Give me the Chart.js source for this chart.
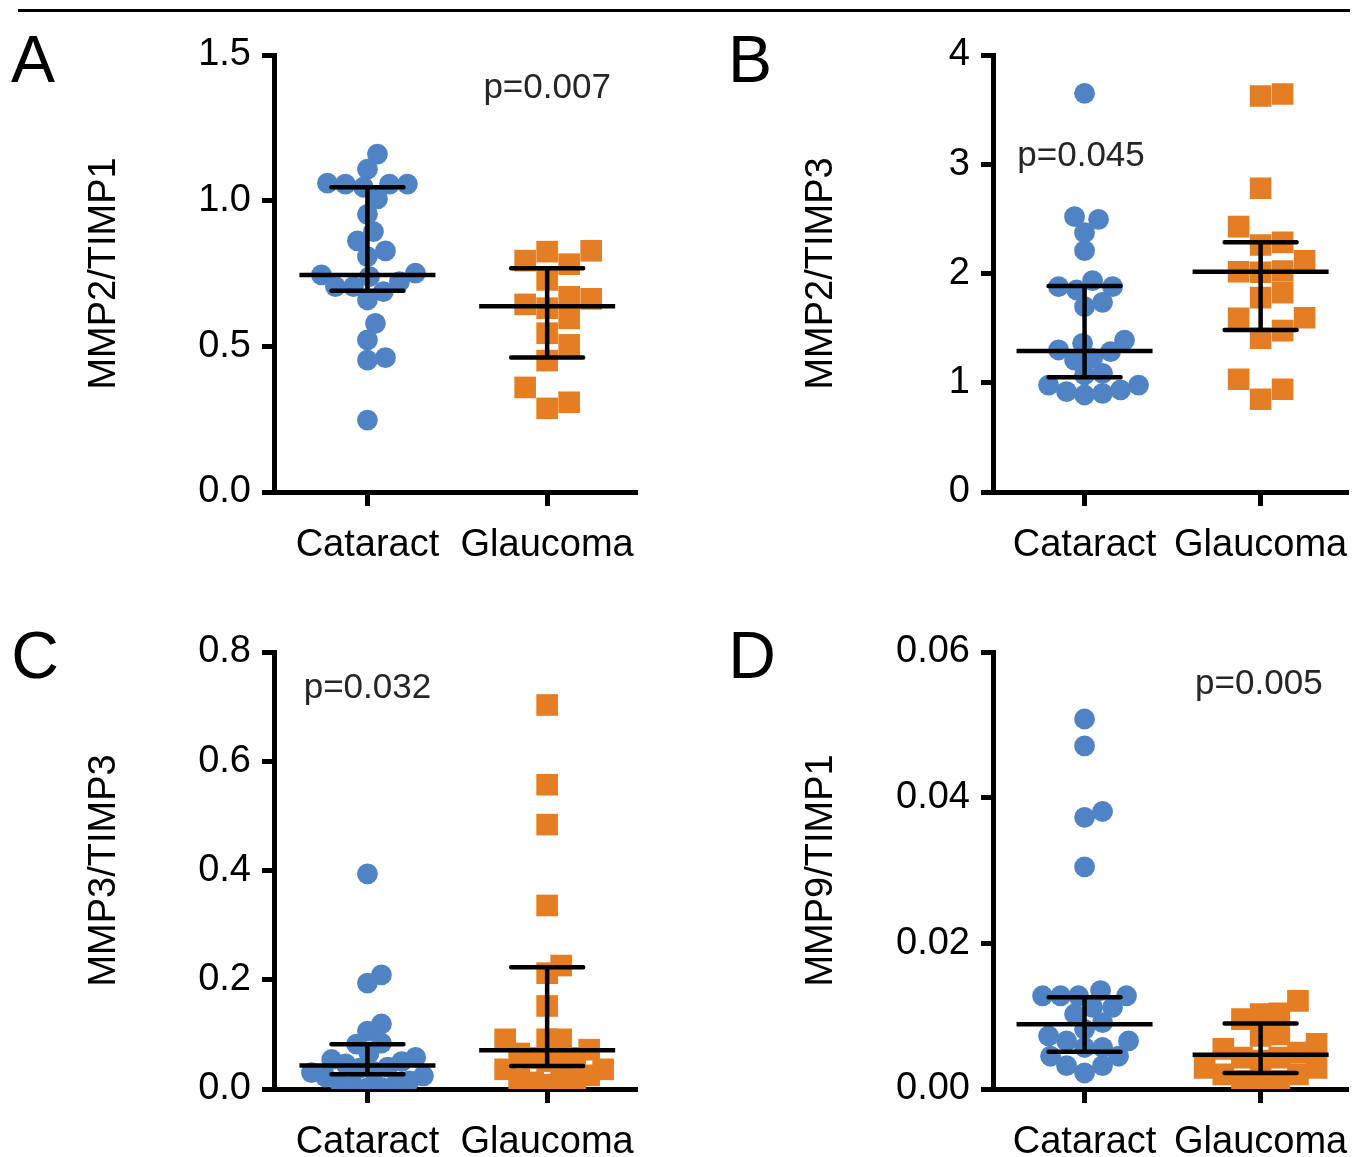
<!DOCTYPE html>
<html>
<head>
<meta charset="utf-8">
<script src="https://cdn.jsdelivr.net/npm/chart.js@4.4.1/dist/chart.umd.min.js"></script>
<style>
html,body{margin:0;padding:0;background:#fff;overflow:hidden}
body{width:1368px;height:1157px;position:relative}
.rule{position:absolute;left:18px;top:9px;width:1332px;height:3px;background:#000}
.panel{position:absolute;width:684px;height:580px}
</style>
</head>
<body>
<div class="rule"></div>
<div class="panel" style="left:0;top:0"><canvas id="cA" width="684" height="580"></canvas></div>
<div class="panel" style="left:684px;top:0"><canvas id="cB" width="684" height="580"></canvas></div>
<div class="panel" style="left:0;top:597px"><canvas id="cC" width="684" height="580"></canvas></div>
<div class="panel" style="left:684px;top:597px"><canvas id="cD" width="684" height="580"></canvas></div>
<script>
// ---- data ----
const groups = ["Cataract", "Glaucoma"];

const cataractA = [1.160, 1.108, 1.060, 1.057, 1.057, 1.057, 1.046, 1.006, 0.953, 0.894, 0.862, 0.828, 0.808,
  0.751, 0.745, 0.739, 0.722, 0.705, 0.705, 0.688, 0.659, 0.579, 0.522, 0.461, 0.453, 0.247];
const glaucomaA = [0.828, 0.825, 0.794, 0.782, 0.728, 0.670, 0.663, 0.644, 0.631, 0.596, 0.545, 0.505, 0.451,
  0.359, 0.308, 0.287];
const medianA = [0.745, 0.638];
const q1A = [0.691, 0.462];
const q3A = [1.046, 0.768];
const ticksA = [0, 0.5, 1.0, 1.5];
const tickLabelsA = ["0.0", "0.5", "1.0", "1.5"];

const cataractB = [3.649, 2.520, 2.496, 2.374, 2.209, 1.934, 1.879, 1.879, 1.849, 1.736, 1.696, 1.391, 1.361,
  1.300, 1.284, 1.224, 1.208, 1.086, 1.071, 0.979, 0.979, 0.934, 0.918, 0.903, 0.888];
const glaucomaB = [3.643, 3.625, 2.780, 2.429, 2.285, 2.261, 2.117, 2.023, 2.016, 2.011, 1.824, 1.779, 1.595,
  1.590, 1.477, 1.407, 1.032, 0.940, 0.849];
const medianB = [1.291, 2.017];
const q1B = [1.050, 1.483];
const q3B = [1.886, 2.285];
const ticksB = [0, 1, 2, 3, 4];
const tickLabelsB = ["0", "1", "2", "3", "4"];

const cataractC = [0.394, 0.209, 0.194, 0.119, 0.106, 0.084, 0.082, 0.065, 0.058, 0.054, 0.050, 0.046, 0.040,
  0.038, 0.032, 0.030, 0.024, 0.022, 0.015, 0.012, 0.008, 0.006, 0.003, 0.002];
const glaucomaC = [0.703, 0.557, 0.484, 0.336, 0.226, 0.212, 0.152, 0.091, 0.091, 0.091, 0.072, 0.065, 0.057,
  0.057, 0.051, 0.051, 0.036, 0.036, 0.025, 0.018, 0.018, 0.012, 0.012, 0.008];
const medianC = [0.043, 0.071];
const q1C = [0.027, 0.042];
const q3C = [0.082, 0.223];
const ticksC = [0, 0.2, 0.4, 0.6, 0.8];
const tickLabelsC = ["0.0", "0.2", "0.4", "0.6", "0.8"];

const cataractD = [0.0508, 0.0471, 0.0381, 0.0373, 0.0305, 0.0135, 0.0128, 0.0128, 0.0128, 0.0128, 0.0112,
  0.0112, 0.0103, 0.0091, 0.0082, 0.0073, 0.0066, 0.0066, 0.0057, 0.0057, 0.0045, 0.0045, 0.0032, 0.0032, 0.0022];
const glaucomaD = [0.0121, 0.0104, 0.0103, 0.0096, 0.0075, 0.0073, 0.0062, 0.0055, 0.0050, 0.0043, 0.0043,
  0.0039, 0.0029, 0.0029, 0.0020, 0.0020, 0.0011, 0.0011, 0.0008];
const medianD = [0.0089, 0.0047];
const q1D = [0.0051, 0.0022];
const q3D = [0.0126, 0.0090];
const ticksD = [0, 0.02, 0.04, 0.06];
const tickLabelsD = ["0.00", "0.02", "0.04", "0.06"];

// ---- styling ----
const FONT = "'Liberation Sans', Arial, sans-serif";
const BLUE = "#4f83c4";
const ORANGE = "#e57e22";
const MAX_SPREAD = 56; // px either side of the group centre

/* median + interquartile bars, drawn on top of the points */
const iqrPlugin = {
  id: "iqr",
  afterDatasetsDraw(chart, args, o) {
    const {ctx, scales: {x, y}} = chart;
    ctx.save();
    ctx.strokeStyle = "#000";
    ctx.lineWidth = 4.5;
    o.median.forEach((m, i) => {
      const cx = x.getPixelForValue(i);
      const pm = y.getPixelForValue(m);
      const p1 = y.getPixelForValue(o.q1[i]);
      const p3 = y.getPixelForValue(o.q3[i]);
      ctx.beginPath();
      ctx.moveTo(cx - 68, pm); ctx.lineTo(cx + 68, pm);
      ctx.moveTo(cx, p1); ctx.lineTo(cx, p3);
      ctx.stroke();
      ctx.lineCap = "round";
      ctx.beginPath();
      ctx.moveTo(cx - 36, p1); ctx.lineTo(cx + 36, p1);
      ctx.moveTo(cx - 36, p3); ctx.lineTo(cx + 36, p3);
      ctx.stroke();
      ctx.lineCap = "butt";
    });
    ctx.restore();
  }
};

/* panel letter and p value */
const notePlugin = {
  id: "note",
  afterDraw(chart, args, o) {
    const {ctx, scales: {x, y}} = chart;
    ctx.save();
    ctx.textAlign = "center";
    ctx.textBaseline = "middle";
    ctx.fillStyle = "#000";
    ctx.font = "66px " + FONT;
    ctx.fillText(o.letter, o.letterX, o.letterY);
    ctx.fillStyle = "#262626";
    ctx.font = "35px " + FONT;
    ctx.fillText(o.p, x.getPixelForValue(o.pAt[0]), y.getPixelForValue(o.pAt[1]));
    ctx.restore();
  }
};

/* simple beeswarm: place points from low to high, nearest free offset,
   then squeeze the group if it got wider than MAX_SPREAD */
function swarm(chart) {
  const xs = chart.scales.x, ys = chart.scales.y;
  const unit = xs.getPixelForValue(1) - xs.getPixelForValue(0);
  chart.data.datasets.forEach((ds, gi) => {
    const vals = ds.values;
    const rect = ds.pointStyle === "rect";
    const order = vals.map((v, i) => i).sort((a, b) => vals[a] - vals[b]);
    const placed = [];
    const off = new Array(vals.length).fill(0);
    order.forEach(i => {
      const py = ys.getPixelForValue(vals[i]);
      for (let k = 0; k < 500; k++) {
        const c = k === 0 ? 0 : (k % 2 ? 1 : -1) * Math.ceil(k / 2) * 2;
        const hit = placed.some(p => {
          const dx = p.x - c, dy = p.y - py;
          return rect ? (Math.abs(dx) < 21 && Math.abs(dy) < 21) : (dx * dx + dy * dy < 18 * 18);
        });
        if (!hit) { off[i] = c; placed.push({x: c, y: py}); break; }
      }
    });
    const widest = Math.max(...off.map(Math.abs));
    const k = widest > MAX_SPREAD ? MAX_SPREAD / widest : 1;
    ds.data = vals.map((v, i) => ({x: gi + off[i] * k / unit, y: v}));
  });
  chart.update("none");
}

function makePanel(id, p) {
  const ds = (vals, gi, color, style, r) => ({
    values: vals,
    data: vals.map(v => ({x: gi, y: v})),
    backgroundColor: color,
    borderWidth: 0,
    pointStyle: style,
    pointRadius: r,
    pointBorderWidth: 0,
    clip: {left: 40, right: 40, top: 40, bottom: 0}
  });
  const chart = new Chart(document.getElementById(id), {
    type: "scatter",
    data: {
      datasets: [
        ds(p.cataract, 0, BLUE, "circle", 10.4),
        ds(p.glaucoma, 1, ORANGE, "rect", 15.3)
      ]
    },
    options: {
      responsive: false,
      animation: false,
      events: [],
      layout: {padding: {left: 0, top: 55, right: p.padRight, bottom: 0}},
      plugins: {
        legend: {display: false},
        tooltip: {enabled: false},
        iqr: {median: p.median, q1: p.q1, q3: p.q3},
        note: {letter: p.letter, letterX: p.letterX, letterY: p.letterY, p: p.pText, pAt: p.pAt}
      },
      scales: {
        x: {
          type: "linear", min: -0.52, max: 1.5, z: 1,
          afterBuildTicks: s => { s.ticks = groups.map((g, i) => ({value: i})); },
          afterFit: s => { s.height = 88; },
          ticks: {
            callback: (v, i) => groups[i],
            color: "#000", font: {size: 38, family: FONT}, padding: 17, maxRotation: 0, autoSkip: false
          },
          grid: {drawOnChartArea: false, tickLength: 14, tickWidth: 5, tickColor: "#000"},
          border: {color: "#000", width: 5}
        },
        y: {
          type: "linear", min: p.ticks[0], max: p.ticks[p.ticks.length - 1], z: 1,
          afterBuildTicks: s => { s.ticks = p.ticks.map(v => ({value: v})); },
          afterFit: s => { s.width = p.axisW; },
          ticks: {
            callback: (v, i) => p.tickLabels[i],
            color: "#000", font: {size: 38, family: FONT}, padding: 11
          },
          grid: {drawOnChartArea: false, tickLength: 12, tickWidth: 5, tickColor: "#000"},
          border: {color: "#000", width: 5},
          title: {
            display: true, text: p.yTitle, color: "#000",
            font: {size: 38, family: FONT}, padding: {top: p.titlePad, bottom: 0}
          }
        }
      }
    },
    plugins: [iqrPlugin, notePlugin]
  });
  swarm(chart);
}

makePanel("cA", {
  cataract: cataractA, glaucoma: glaucomaA, median: medianA, q1: q1A, q3: q3A,
  ticks: ticksA, tickLabels: tickLabelsA, yTitle: "MMP2/TIMP1",
  letter: "A", letterX: 33, letterY: 64, pText: "p=0.007", pAt: [1, 1.387],
  axisW: 274, padRight: 47, titlePad: 82
});
makePanel("cB", {
  cataract: cataractB, glaucoma: glaucomaB, median: medianB, q1: q1B, q3: q3B,
  ticks: ticksB, tickLabels: tickLabelsB, yTitle: "MMP2/TIMP3",
  letter: "B", letterX: 66, letterY: 64, pText: "p=0.045", pAt: [-0.02, 3.07],
  axisW: 309, padRight: 15, titlePad: 115
});
makePanel("cC", {
  cataract: cataractC, glaucoma: glaucomaC, median: medianC, q1: q1C, q3: q3C,
  ticks: ticksC, tickLabels: tickLabelsC, yTitle: "MMP3/TIMP3",
  letter: "C", letterX: 35, letterY: 63, pText: "p=0.032", pAt: [0, 0.734],
  axisW: 274, padRight: 47, titlePad: 82
});
makePanel("cD", {
  cataract: cataractD, glaucoma: glaucomaD, median: medianD, q1: q1D, q3: q3D,
  ticks: ticksD, tickLabels: tickLabelsD, yTitle: "MMP9/TIMP1",
  letter: "D", letterX: 68, letterY: 63, pText: "p=0.005", pAt: [0.99, 0.0555],
  axisW: 309, padRight: 15, titlePad: 115
});
</script>
</body>
</html>
